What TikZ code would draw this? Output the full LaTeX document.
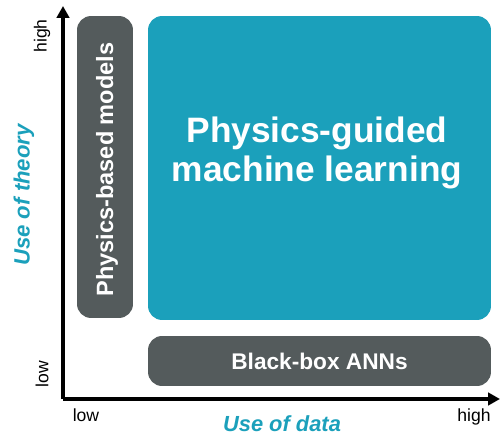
\documentclass[tikz,border=0pt]{standalone}
\usepackage{fontspec}
\setmainfont{Liberation Sans}
\usetikzlibrary{arrows.meta, positioning, calc}

\definecolor{pgteal}{HTML}{1BA0BB}
\definecolor{pggray}{HTML}{545B5C}

\tikzset{
    box/.style={rounded corners=0.28cm, inner sep=0pt},
    boxtext/.style={inner sep=0pt, text=white, align=center},
    axis/.style={line width=1.8pt, -{Triangle[length=2.4mm, width=2.5mm]}},
    tick/.style={font=\fontsize{10}{12}\selectfont},
    axlabel/.style={font=\fontsize{12.6}{14}\selectfont\bfseries\itshape, text=pgteal}
}

\begin{document}
\begin{tikzpicture}[x=0.02cm, y=-0.02cm]
            \useasboundingbox (0,0) rectangle (501,436);

            % boxes
            \node[box, fill=pggray, minimum width=1.12cm, minimum height=6.04cm] (pbm) at (105,167) {};
            \node[box, fill=pgteal, minimum width=6.86cm, minimum height=6.08cm] (pgml) at (319.5,168) {};
            \node[box, fill=pggray, minimum width=6.86cm, minimum height=1.0cm] (bb) at (319.5,361) {};

            % box texts
            \node[boxtext, rotate=90, font=\fontsize{13.4}{15}\selectfont\bfseries] (pbmtext) at (107,169.5)
                {Physics-based models};
            \node[boxtext, font=\fontsize{20.1}{22.7}\selectfont\bfseries] (pgmltext) at (317,153)
                {Physics-guided\\machine learning};
            \node[boxtext, font=\fontsize{12.9}{14}\selectfont\bfseries] (bbtext) at (319.5,361)
                {Black-box ANNs};

            % axes
            \coordinate (O) at (63,399);
            \coordinate (ytip) at (63,6);
            \coordinate (xtip) at (500,399);
            \draw[axis] (O) -- (ytip);
            \draw[axis] (O) -- (xtip);

            \node[tick, rotate=90] (yhigh) at (42,36) {high};
            \node[tick, rotate=90] (ylow) at (42,374) {low};
            \node[tick] (xlow) at (86,415) {low};
            \node[tick] (xhigh) at (474,417) {high};

            \node[axlabel, rotate=90] (ylab) at (24,195) {Use of theory};
            \node[axlabel, font=\fontsize{12.45}{14}\selectfont\bfseries\itshape] (xlab) at (282,424) {Use of data};
\end{tikzpicture}
\end{document}
